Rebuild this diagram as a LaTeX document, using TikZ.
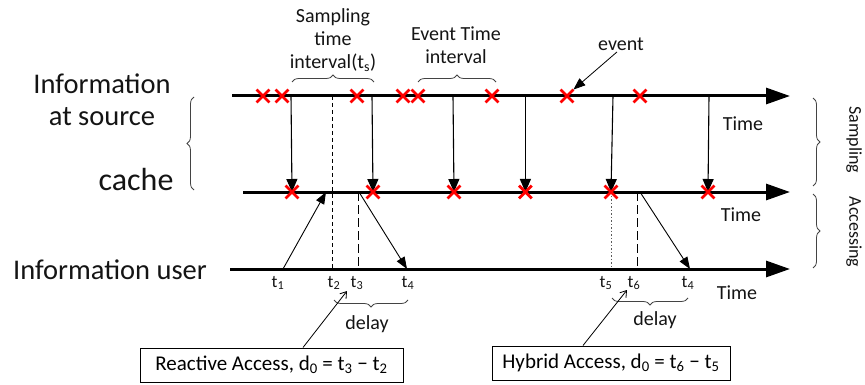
\documentclass[tikz,border=0pt]{standalone}
\usepackage{fontspec}
\setsansfont{Carlito}
\usepackage{tikz}
\usetikzlibrary{arrows.meta, positioning, decorations.pathreplacing, shapes.misc}
\definecolor{evred}{RGB}{255,0,0}
\definecolor{ink}{RGB}{20,20,20}

\begin{document}
\begin{tikzpicture}[x=1pt, y=-1pt, font=\sffamily,
  axis/.style={line width=3pt, -{Triangle[length=24pt,width=16pt]}},
  hit/.style={cross out, draw=evred, line width=2.8pt, minimum size=10pt, inner sep=0pt},
  push/.style={line width=1.1pt, -{Triangle[length=13pt,width=11pt]}},
  fetch/.style={line width=0.9pt, -{Triangle[length=12pt,width=9pt]}},
  point/.style={line width=0.8pt, -{Straight Barb[length=6pt,width=8pt]}},
  brc/.style={decorate, decoration={brace, amplitude=7pt}, line width=0.8pt, ink!80},
  note/.style={draw, line width=1pt, minimum height=34pt, inner xsep=7pt, font=\sffamily\fontsize{21}{24}\selectfont},
  big/.style={font=\sffamily\fontsize{28.5}{32}\selectfont, ink},
  small/.style={font=\sffamily\fontsize{20}{23}\selectfont, ink},
  tick/.style={font=\sffamily\fontsize{17.5}{20}\selectfont, ink},
  side/.style={font=\sffamily\fontsize{18}{20}\selectfont, ink, rotate=-90},
  ]
  \useasboundingbox (0,0) rectangle (865,385);

  % time axes
  \coordinate (srcL) at (232,96);  \coordinate (srcR) at (790,96);
  \coordinate (cacL) at (243,192); \coordinate (cacR) at (790,192);
  \coordinate (usrL) at (230,269); \coordinate (usrR) at (790,269);
  \draw[axis] (srcL) -- (srcR);
  \draw[axis] (cacL) -- (cacR);
  \draw[axis] (usrL) -- (usrR);

  % sampling: source -> cache
  \foreach \x [count=\k] in {291,372,453,525.4,613,709} {
    \coordinate (p\k) at (\x,96);
  }
  \foreach \x [count=\k] in {292,373,454,525.4,611,708} {
    \coordinate (c\k) at (\x,192);
  }
  \foreach \k in {1,...,6} {
    \draw[push] (p\k) -- (c\k);
  }

  % guide lines
  \coordinate (g2) at (332,96);
  \coordinate (a3) at (358,192);
  \coordinate (a5) at (611,192);
  \coordinate (a6) at (637,192);
  \foreach \x/\n in {283/t1,332/t2,358/t3,407/t4,611/t5,637/t6,690/t7} {
    \coordinate (\n) at (\x,269);
  }
  \draw[line width=0.8pt, dash pattern=on 4pt off 3pt] (g2) -- (t2);
  \draw[line width=1pt, dash pattern=on 9pt off 4pt] (a3) -- (t3);
  \draw[line width=0.8pt, dash pattern=on 1.5pt off 2pt, ink!70] (a5) -- (t5);
  \draw[line width=1pt, dash pattern=on 9pt off 4pt] (a6) -- (t6);

  % accesses
  \coordinate (a1) at (326,192);
  \coordinate (a4) at (359,192);
  \coordinate (a7) at (640,192);
  \draw[fetch] (t1) -- (a1);
  \draw[fetch] (a4) -- (t4);
  \draw[fetch] (a7) -- (t7);

  % events
  \foreach \x [count=\k] in {263,282,357,403,418,492,567,640} {
    \node[hit] (s\k) at (\x,96) {};
  }
  \foreach \k in {1,...,6} {
    \node[hit] (x\k) at (c\k) {};
  }

  % left labels
  \node[big, align=center] (srclbl) at (102,100) {Information\\at source};
  \node[big, font=\sffamily\fontsize{32}{36}\selectfont] (caclbl) at (136,180) {cache};
  \node[big] (usrlbl) at (110,270) {Information user};
  \draw[brc] (194,190) -- (194,97);

  % top labels
  \node[small, align=center, inner sep=0pt] (samplbl) at (333,40) {Sampling\\time\\interval(t\textsubscript{s})};
  \draw[brc] (292,82) -- (374,82);
  \node[small, align=center, inner sep=0pt] (evlbl) at (456,45) {Event Time\\interval};
  \draw[brc] (418,82) -- (496,82);
  \node[small] (evt) at (621,44) {event};
  \draw[fetch, line width=0.8pt] (evt.south) ++(-4pt,2pt) coordinate (e0) (e0) -- (s7.north east);

  % time labels
  \node[small] (tm1) at (743,124) {Time};
  \node[small] (tm2) at (741,215) {Time};
  \node[small] (tm3) at (737,293) {Time};

  % instants
  \foreach \x/\s in {278/1,334/2,357/3,408/4,606/5,634/6,688/4} {
    \node[tick] at (\x,283) {t\textsubscript{\s}};
  }

  % delays
  \draw[brc] (408,300) -- (334,300);
  \node[small] (dl1) at (367,324) {delay};
  \draw[brc] (688,298) -- (612,298);
  \node[small] (dl2) at (655,320) {delay};

  % access boxes
  \node[note, minimum width=263pt] (react) at (271.5,365) {Reactive Access, d\textsubscript{0} = t\textsubscript{3} − t\textsubscript{2}};
  \node[note, minimum width=238pt] (hybrid) at (611,363) {Hybrid Access, d\textsubscript{0} = t\textsubscript{6} − t\textsubscript{5}};
  \coordinate (r0) at (347,291);
  \coordinate (h0) at (627,290);
  \draw[point] (react.north) ++(31.5pt,0) coordinate (r1) (r1) -- (r0);
  \draw[point] (hybrid.north) ++(-28pt,0) coordinate (h1) (h1) -- (h0);

  % phases
  \draw[brc] (813,98) -- (813,186);
  \draw[brc] (813,194) -- (813,268);
  \node[side] (smp) at (854,140) {Sampling};
  \node[side] (acc) at (854,232) {Accessing};
\end{tikzpicture}
\end{document}
